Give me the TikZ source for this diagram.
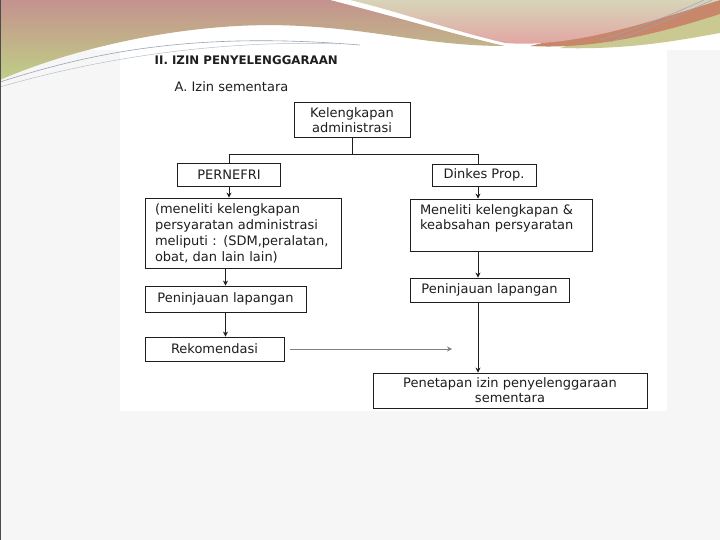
\documentclass[tikz,border=0pt]{standalone}
\usepackage{fontspec}
\setmainfont{DejaVu Sans}
\usetikzlibrary{arrows.meta}
\definecolor{slidegray}{HTML}{F6F6F6}
\definecolor{hdrpink}{HTML}{C4928E}
\definecolor{hdrgreen}{HTML}{BFCF86}
\definecolor{hdrbeige}{HTML}{D7D4B8}
\definecolor{hdrrose}{HTML}{E3A2A2}
\definecolor{hdrorange}{HTML}{C8876A}
\definecolor{hdrolive}{HTML}{C9C991}
\definecolor{swoosh}{HTML}{98A4B4}
\definecolor{ink}{HTML}{1E1E1E}

\begin{document}
\begin{tikzpicture}[x=1pt,y=-1pt,line width=0.8pt,
  every node/.style={font=\fontsize{13}{15}\selectfont,text=ink},
  box/.style={draw=ink,inner sep=0pt,align=center},
  notebox/.style={box,align=left,inner xsep=10pt},
  flow/.style={draw=ink,-{Stealth[length=5pt,width=5pt]}}]
 \useasboundingbox (0,0) rectangle (720,540);
 % slide and page
 \fill[slidegray] (0,0) rectangle (720,540);
 \fill[white] (0,0) rectangle (720,50);
 \fill[white] (120,48) rectangle (667,411);
 % header waves
 \shade[top color=hdrpink,middle color=hdrpink!45!hdrgreen,bottom color=hdrgreen] (0,0) -- (330,0)
   .. controls (400,18) and (460,36) .. (505,46)
   .. controls (430,46) and (380,30) .. (300,26)
   .. controls (200,20) and (80,45) .. (0,80) -- cycle;
 \fill[hdrolive] (560,48) .. controls (630,50) and (680,40) .. (720,33) -- (720,0) -- cycle;
 \fill[hdrorange] (530,46) .. controls (600,50) and (670,30) .. (720,14) -- (720,0) -- cycle;
 \shade[top color=hdrbeige,bottom color=hdrrose] (350,0) -- (720,0)
   .. controls (640,25) and (570,48) .. (505,43)
   .. controls (450,30) and (400,12) .. (350,0) -- cycle;
 \draw[swoosh,line width=0.6pt] (0,82) .. controls (100,50) and (200,32) .. (360,45);
 \draw[swoosh!70,line width=0.5pt] (0,87) .. controls (110,55) and (230,40) .. (340,44);
 \draw[swoosh,line width=0.5pt] (712,0) .. controls (680,15) and (650,28) .. (610,42);
 \draw[swoosh,line width=0.5pt] (704,0) .. controls (675,13) and (645,26) .. (600,40);
 \draw[gray!60!black,line width=1pt] (0,0) rectangle (720,540);

 % titles
 \node[anchor=west,font=\bfseries\fontsize{11.8}{14}\selectfont] (title) at (151,60) {II. IZIN PENYELENGGARAAN};
 \node[anchor=west] (sub) at (171,87) {A. Izin sementara};

 % boxes
 \node[box,minimum width=116,minimum height=35] (kel) at (352,120) {Kelengkapan\\administrasi};
 \node[box,minimum width=103,minimum height=23] (pern) at (229,174.5) {PERNEFRI};
 \node[box,minimum width=104,minimum height=22] (dink) at (484,175) {Dinkes Prop.};
 \node[notebox,text width=176,minimum height=70,font=\fontsize{13}{16}\selectfont] (mkl) at (243,233)
   {(meneliti kelengkapan\\persyaratan administrasi\\meliputi : (SDM,peralatan,\\obat, dan lain lain)};
 \node[notebox,text width=162,minimum height=52] (mkr) at (501,225)
   {Meneliti kelengkapan \&\\keabsahan persyaratan\\\mbox{}};
 \node[box,minimum width=161,minimum height=26] (pkl) at (225.5,299) {Peninjauan lapangan};
 \node[box,minimum width=159,minimum height=24] (pkr) at (489.5,290) {Peninjauan lapangan};
 \node[box,minimum width=139,minimum height=24] (rek) at (214.5,349) {Rekomendasi};
 \node[box,minimum width=274,minimum height=35] (pen) at (510,390.5) {Penetapan izin penyelenggaraan\\sementara};

 % connectors
 \coordinate (rcol) at (478,0);
 \coordinate (rekend) at (452,349);
 \path (kel.south) ++(0,17) coordinate (split);
 \draw[ink] (kel.south) -- (split);
 \draw[ink] (pern.north) |- (split) -| (rcol |- dink.north);
 \draw[flow] (pern.south) -- (pern.south |- mkl.north);
 \draw[flow] (mkl.south -| pkl.north) -- (pkl.north);
 \draw[flow] (pkl.south) -- (pkl.south |- rek.north);
 \draw[flow] (rcol |- dink.south) -- (rcol |- mkr.north);
 \draw[flow] (rcol |- mkr.south) -- (rcol |- pkr.north);
 \draw[flow] (rcol |- pkr.south) -- (rcol |- pen.north);
 \draw[flow,draw=gray] ([xshift=6pt]rek.east) -- (rekend);
\end{tikzpicture}
\end{document}
